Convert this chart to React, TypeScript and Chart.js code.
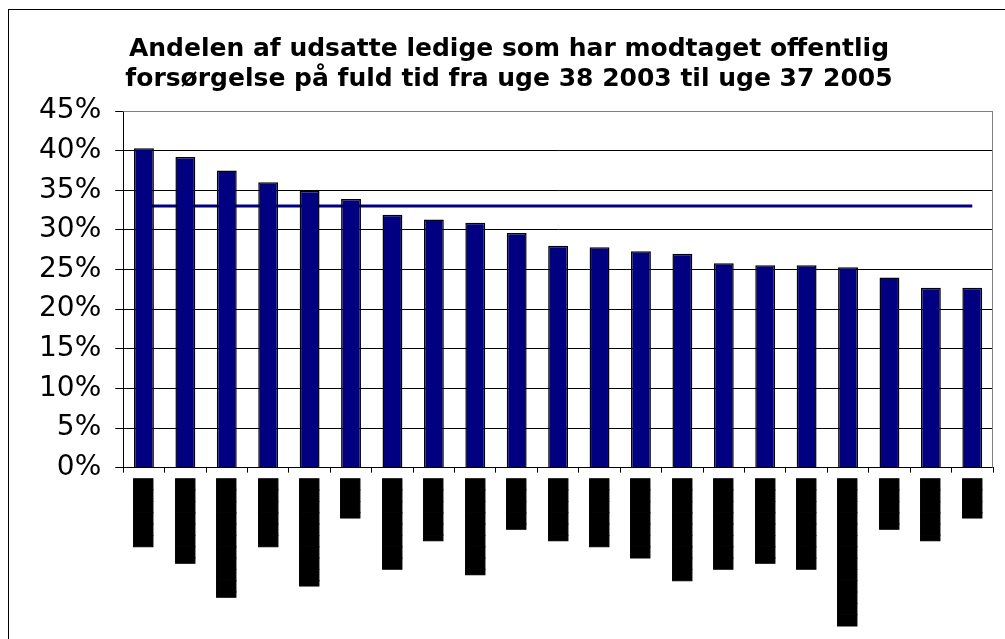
import React, { useEffect, useRef } from "react";
import { Chart, registerables } from "chart.js";

Chart.register(...registerables);

// Category labels are redacted (rendered as solid black blocks) in the reference
const categories: string[] = [
  "██████", "▐███████", "▐██████████", "██████", "▐█████████", "▐███",
  "████████", "▐█████", "▐████████", "▐████", "▐█████", "██████", "███████",
  "█████████", "████████", "▐███████", "████████", "█████████████", "▐████",
  "▐█████", "▐███",
];

const shares: number[] = [
  40.3, 39.2, 37.5, 36.0, 34.9, 33.9, 31.9, 31.3, 30.9, 29.6, 28.0,
  27.8, 27.3, 27.0, 25.8, 25.55, 25.55, 25.3, 24.0, 22.7, 22.7,
];

const averageShare: number[] = [
  33, 33, 33, 33, 33, 33, 33, 33, 33, 33, 33, 33, 33, 33, 33, 33, 33, 33, 33, 33, 33,
];

const titleLines: string[] = [
  "Andelen af udsatte ledige som har modtaget offentlig",
  "forsørgelse på fuld tid fra uge 38 2003 til uge 37 2005",
];

const yMin = 0;
const yMax = 45;
const yStep = 5;

const WIDE = "'DejaVu Sans', Verdana, sans-serif";
const BLOCK = "'Liberation Sans', Arial, sans-serif";

const plotFrame = {
  id: "plotFrame",
  beforeDatasetsDraw(chart: any) {
    const { ctx, chartArea } = chart;
    ctx.save();
    ctx.strokeStyle = "#808080";
    ctx.lineWidth = 1;
    ctx.beginPath();
    ctx.moveTo(chartArea.left, chartArea.top + 0.5);
    ctx.lineTo(chartArea.right - 0.5, chartArea.top + 0.5);
    ctx.lineTo(chartArea.right - 0.5, chartArea.bottom);
    ctx.stroke();
    ctx.restore();
  },
};

export default function App() {
  const ref = useRef<HTMLCanvasElement | null>(null);

  useEffect(() => {
    if (!ref.current) return;
    const chart = new Chart(ref.current, {
      type: "bar",
      data: {
        labels: categories,
        datasets: [
          {
            type: "bar",
            data: shares,
            backgroundColor: "#000080",
            borderColor: "#000000",
            borderWidth: 1.5,
            barPercentage: 0.48,
            categoryPercentage: 1,
            order: 1,
          },
          {
            type: "line",
            data: averageShare,
            borderColor: "#000080",
            borderWidth: 3,
            pointRadius: 0,
            fill: false,
            order: 2,
          } as any,
        ],
      },
      options: {
        animation: false,
        responsive: false,
        layout: { padding: { left: 16, right: 12, top: 0, bottom: 7 } },
        plugins: {
          legend: { display: false },
          tooltip: { enabled: false },
          title: {
            display: true,
            text: titleLines,
            color: "#000",
            font: { family: WIDE, size: 25, weight: "bold", lineHeight: 1.2 },
            padding: { top: 24, bottom: 17 },
          },
        },
        scales: {
          x: {
            grid: {
              drawOnChartArea: false,
              drawTicks: true,
              tickLength: 5,
              tickColor: "#000",
              offset: true,
            },
            border: { color: "#000", width: 1 },
            ticks: {
              autoSkip: false,
              minRotation: 90,
              maxRotation: 90,
              color: "#000",
              textStrokeColor: "#000",
              textStrokeWidth: 1,
              padding: 6,
              font: { family: BLOCK, size: 16 },
            },
          },
          y: {
            min: yMin,
            max: yMax,
            grid: {
              color: (c: any) => (c.tick && c.tick.value === yMax ? "#808080" : "#000"),
              tickColor: "#000",
              tickLength: 8,
              lineWidth: 1,
            },
            border: { color: "#000", width: 1 },
            ticks: {
              stepSize: yStep,
              color: "#000",
              padding: 14,
              font: { family: WIDE, size: 28 },
              callback: (v: any) => `${v}%`,
            },
          },
        },
      },
      plugins: [plotFrame],
    });
    return () => chart.destroy();
  }, []);

  return (
    <div
      style={{
        position: "fixed",
        left: 8,
        top: 9,
        width: 997,
        height: 630,
        borderLeft: "1px solid #000",
        borderTop: "1px solid #000",
        background: "#fff",
      }}
    >
      <canvas ref={ref} width={996} height={629} style={{ display: "block" }} />
    </div>
  );
}
